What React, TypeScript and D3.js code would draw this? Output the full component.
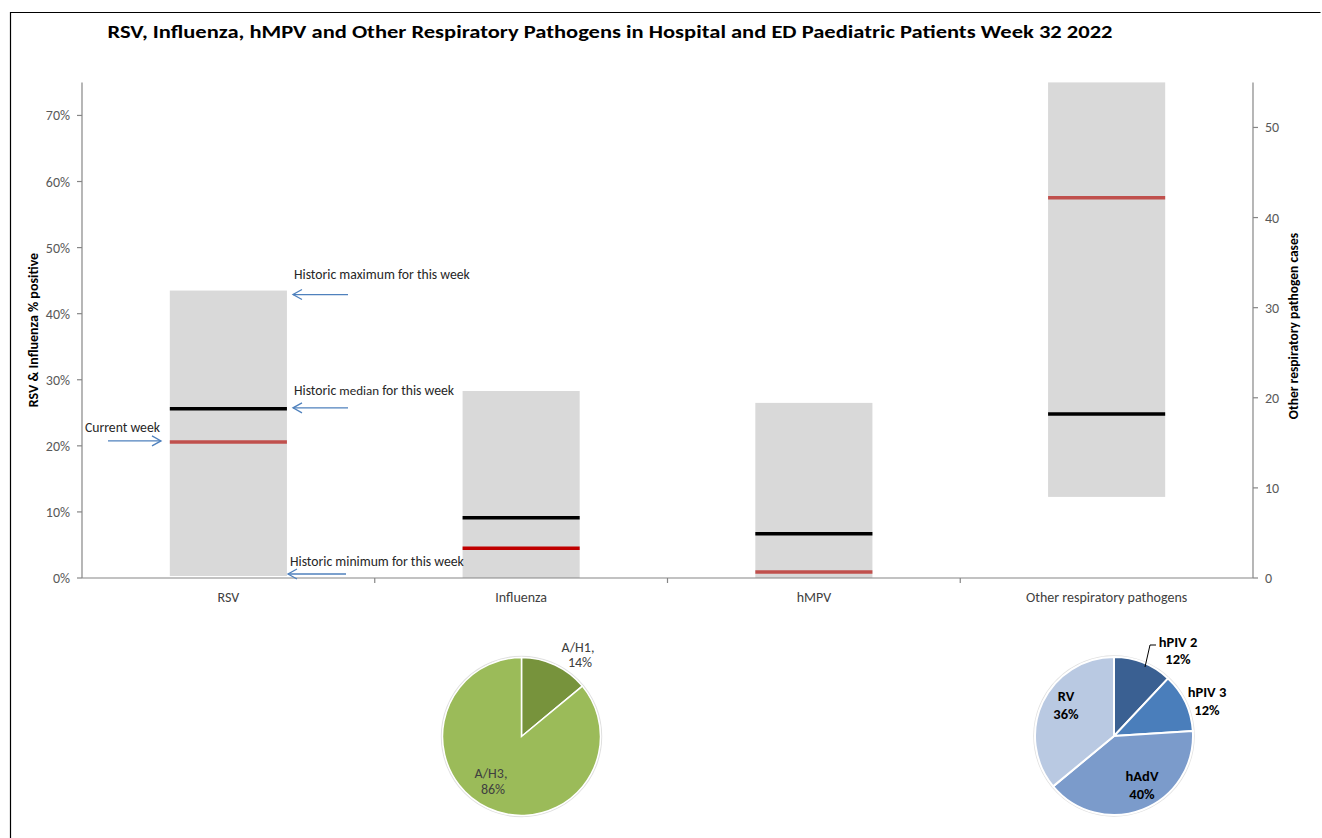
import React from "react";
import * as d3 from "d3";

const categories = ["RSV", "Influenza", "hMPV", "Other respiratory pathogens"];
const axisSide = ["left", "left", "left", "right"];
const histMin = [0.003, 0, 0, 9];
const histMax = [0.435, 0.283, 0.265, 55];
const histMedian = [0.256, 0.091, 0.067, 18.2];
const currentWeek = [0.206, 0.045, 0.009, 42.2];

const leftTicks = [0, 0.1, 0.2, 0.3, 0.4, 0.5, 0.6, 0.7];
const rightTicks = [0, 10, 20, 30, 40, 50];

const fluLabels = ["A/H1", "A/H3"];
const fluValues = [14, 86];
const fluColors = ["#77933c", "#9bbb59"];

const otherLabels = ["hPIV 2", "hPIV 3", "hAdV", "RV"];
const otherValues = [12, 12, 40, 36];
const otherColors = ["#3a6092", "#4a7ebb", "#7b9bcb", "#b9c9e2"];

const FONT = "Calibri, Carlito, 'Liberation Sans', Arial, sans-serif";

export default function App() {
  const x0 = 82, x1 = 1253, yBase = 578, yTop = 82.4;
  const x = d3.scaleBand().domain(categories).range([x0, x1]).paddingInner(0).paddingOuter(0);
  const yL = d3.scaleLinear().domain([0, 0.75]).range([yBase, yTop]);
  const yR = d3.scaleLinear().domain([0, 55]).range([yBase, yTop]);
  const barW = x.bandwidth() * 0.4;
  const ys = (i: number) => (axisSide[i] === "left" ? yL : yR);

  const pie = d3.pie<number>().sort(null).value((d) => d);
  const arcR = 79;
  const arc = d3.arc<d3.PieArcDatum<number>>().innerRadius(0).outerRadius(arcR);
  const fluArcs = pie(fluValues);
  const otherArcs = pie(otherValues);

  const fluC = { x: 521.5, y: 736.5 };
  const othC = { x: 1114, y: 736 };

  const blue = "#4f81bd";
  const arrowLeft = (xs: number, xe: number, y: number) => (
    <g stroke={blue} strokeWidth={1.3} fill="none">
      <line x1={xs} y1={y} x2={xe} y2={y} />
      <polyline points={`${xe + 9},${y - 5} ${xe},${y} ${xe + 9},${y + 5}`} />
    </g>
  );
  const arrowRight = (xs: number, xe: number, y: number) => (
    <g stroke={blue} strokeWidth={1.3} fill="none">
      <line x1={xs} y1={y} x2={xe} y2={y} />
      <polyline points={`${xe - 9},${y - 5} ${xe},${y} ${xe - 9},${y + 5}`} />
    </g>
  );

  const fluLabelPos = [
    { x: 578, y: 652, y2: 667 },
    { x: 491, y: 778, y2: 794 },
  ];
  const otherLabelPos = [
    { x: 1178, y: 647, y2: 664 },
    { x: 1207, y: 697, y2: 715 },
    { x: 1142, y: 781, y2: 799 },
    { x: 1066, y: 701, y2: 719 },
  ];

  return (
    <div style={{ position: "absolute", left: 0, top: 0 }}>
      <svg width={1322} height={838} style={{ display: "block", fontFamily: FONT }}>
        <rect x={0} y={0} width={1322} height={838} fill="#fff" />
        <path d="M10.5,850 L10.5,12.5 L1320.5,12.5" fill="none" stroke="#000" strokeWidth={1.2} />
        <text x={610} y={38} textAnchor="middle" fontSize={19} fontWeight="bold" fill="#000"
          textLength={1005} lengthAdjust="spacingAndGlyphs">
          RSV, Influenza, hMPV and Other Respiratory Pathogens in Hospital and ED Paediatric Patients Week 32 2022
        </text>

        {/* bars */}
        {categories.map((c, i) => {
          const s = ys(i);
          const cx = (x(c) as number) + x.bandwidth() / 2;
          return (
            <g key={c}>
              <rect x={cx - barW / 2} y={s(histMax[i])} width={barW} height={s(histMin[i]) - s(histMax[i])} fill="#d9d9d9" />
              <line x1={cx - barW / 2} x2={cx + barW / 2} y1={s(histMedian[i])} y2={s(histMedian[i])} stroke="#000" strokeWidth={3.5} />
              <line x1={cx - barW / 2} x2={cx + barW / 2} y1={s(currentWeek[i])} y2={s(currentWeek[i])} stroke={i === 1 ? "#c00000" : "#c0504d"} strokeWidth={3.5} />
            </g>
          );
        })}

        {/* axes */}
        <g stroke="#868686" strokeWidth={1.2}>
          <line x1={x0} x2={x0} y1={yTop} y2={yBase} />
          <line x1={x1} x2={x1} y1={yTop} y2={yBase} />
          <line x1={x0} x2={x1} y1={yBase} y2={yBase} />
          {leftTicks.map((t) => (
            <line key={"l" + t} x1={x0 - 5} x2={x0} y1={yL(t)} y2={yL(t)} />
          ))}
          {rightTicks.map((t) => (
            <line key={"r" + t} x1={x1} x2={x1 + 5} y1={yR(t)} y2={yR(t)} />
          ))}
          {categories.slice(0, 3).map((c) => {
            const xx = (x(c) as number) + x.bandwidth();
            return <line key={"t" + c} x1={xx} x2={xx} y1={yBase} y2={yBase + 5} />;
          })}
        </g>
        <g fontSize={14} fill="#595959">
          {leftTicks.map((t) => (
            <text key={"lt" + t} x={70} y={yL(t) + 5} textAnchor="end">{d3.format(".0%")(t)}</text>
          ))}
          {rightTicks.map((t) => (
            <text key={"rt" + t} x={1265} y={yR(t) + 5} textAnchor="start">{t}</text>
          ))}
        </g>
        <g fontSize={14} fill="#404040">
          {categories.map((c) => (
            <text key={"c" + c} x={(x(c) as number) + x.bandwidth() / 2} y={602} textAnchor="middle">{c}</text>
          ))}
        </g>
        <text transform="translate(38,330) rotate(-90)" textAnchor="middle" fontSize={14} fontWeight="bold" fill="#000">RSV &amp; Influenza % positive</text>
        <text transform="translate(1298,326) rotate(-90)" textAnchor="middle" fontSize={13.5} fontWeight="bold" fill="#000">Other respiratory pathogen cases</text>

        {/* annotations */}
        <g fontSize={13.7} fill="#262626">
          <text x={294} y={279}>Historic maximum for this week</text>
          <text x={294} y={395}>Historic <tspan fontSize={13}>median</tspan> for this week</text>
          <text x={290} y={566}>Historic minimum for this week</text>
          <text x={85} y={432}>Current week</text>
        </g>
        {arrowLeft(348, 293, yL(histMax[0]) + 4)}
        {arrowLeft(348, 293, yL(histMedian[0]) - 1)}
        {arrowLeft(346, 288, yL(histMin[0]) - 2)}
        {arrowRight(108, 161, yL(currentWeek[0]) - 1)}

        {/* influenza pie */}
        <g transform={`translate(${fluC.x},${fluC.y})`}>
          <circle r={arcR + 1} fill="none" stroke="#e0e0e0" strokeWidth={1.5} />
          {fluArcs.map((a, i) => (
            <path key={i} d={arc(a) as string} fill={fluColors[i]} stroke="#fff" strokeWidth={1.5} />
          ))}
        </g>
        <g fontSize={14} fill="#404040" textAnchor="middle">
          {fluLabels.map((l, i) => (
            <g key={l}>
              <text x={fluLabelPos[i].x} y={fluLabelPos[i].y}>{l},</text>
              <text x={fluLabelPos[i].x + 2} y={fluLabelPos[i].y2}>{fluValues[i]}%</text>
            </g>
          ))}
        </g>

        {/* other pie */}
        <g transform={`translate(${othC.x},${othC.y})`}>
          <circle r={arcR + 1} fill="none" stroke="#e0e0e0" strokeWidth={1.5} />
          {otherArcs.map((a, i) => (
            <path key={i} d={arc(a) as string} fill={otherColors[i]} stroke="#fff" strokeWidth={2} />
          ))}
        </g>
        <polyline points="1145,667 1150,645 1156,645" fill="none" stroke="#000" strokeWidth={1} />
        <g fontSize={14.5} fontWeight="bold" fill="#000" textAnchor="middle">
          {otherLabels.map((l, i) => (
            <g key={l}>
              <text x={otherLabelPos[i].x} y={otherLabelPos[i].y}>{l}</text>
              <text x={otherLabelPos[i].x} y={otherLabelPos[i].y2}>{otherValues[i]}%</text>
            </g>
          ))}
        </g>
      </svg>
    </div>
  );
}
